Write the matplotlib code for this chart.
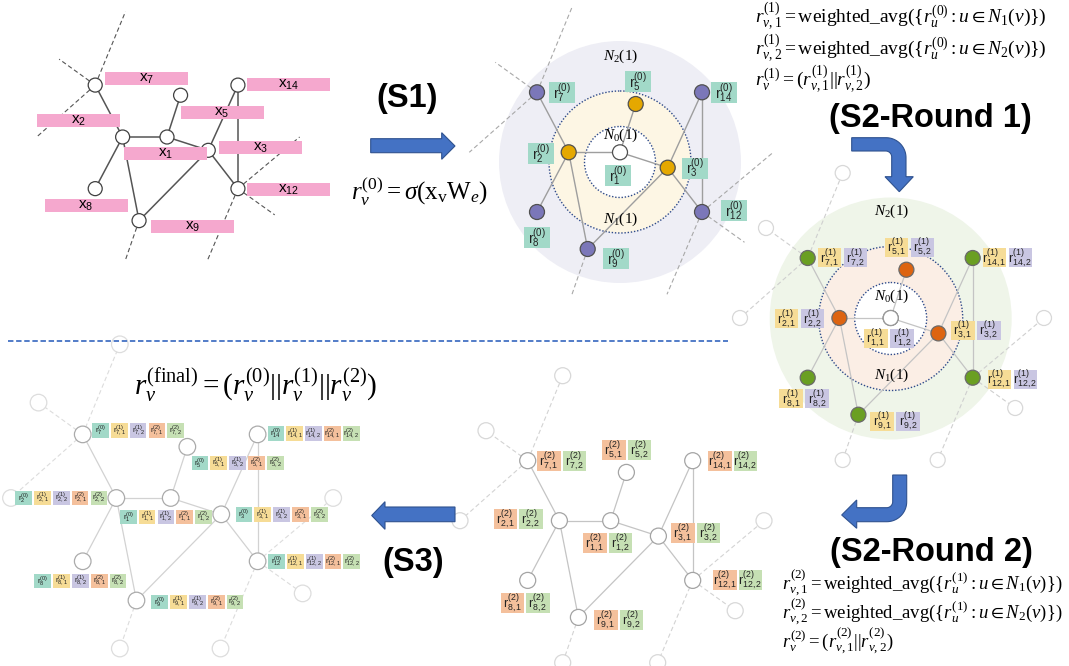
"""Three-stage neighbourhood aggregation diagram (S1, S2 rounds, S3)."""

import matplotlib
matplotlib.use("Agg")
import matplotlib.pyplot as plt
from matplotlib.patches import Circle, Rectangle, Polygon
import numpy as np

plt.rcParams["mathtext.fontset"] = "custom"
plt.rcParams["mathtext.rm"] = "Liberation Serif"
plt.rcParams["mathtext.it"] = "Liberation Serif:italic"
plt.rcParams["mathtext.bf"] = "Liberation Serif:bold"
plt.rcParams["mathtext.sf"] = "Liberation Sans"
plt.rcParams["mathtext.fallback"] = "stix"

# ---- graph data (template coordinates, relative to node 1) ----
NODE_IDS = [1, 2, 3, 5, 7, 8, 9, 12, 14]
NODE_DX = [0, -51.3, 47.7, 15.7, -83, -83, -32.3, 82, 82]
NODE_DY = [0, 0, 15.4, -48.3, -60, 59.7, 96.7, 59.7, -60]
EDGES = [(7, 2), (2, 1), (2, 8), (2, 9), (1, 5), (1, 3),
         (3, 9), (3, 14), (3, 12), (14, 12)]
HOP1 = [2, 3, 5]
HOP2 = [7, 8, 9, 12, 14]
# neighbours outside the drawn subgraph
OUTER_FROM = [7, 7, 7, 12, 12, 9, 12]
OUTER_DX = [-48, -124.7, -150.7, 153.3, 124.5, -48, 47]
OUTER_DY = [-145, -90, 0, 0, 90, 142, 142]

# label box offsets per panel (top-left of first box vs node centre), NODE_IDS order
OFF_A = [(-43, 10), (-86, -23), (11, -9), (0, 11), (10, -13), (-50.7, 10), (12.3, -1), (9.3, -6), (9.3, -7)]
OFF_B = [(-15, 13), (-41, -9), (14, -10), (-11, -33), (12, -10), (-13, 15), (15, -1), (19, -12), (9, -10)]
OFF_C = [(-26.4, 11), (-64.7, -8.7), (12.7, -12.3), (-21.7, -31.6), (10, -9.7), (-28.3, 11.6), (12, -3), (15, -7.7), (10, -9.7)]
OFF_D = [(-27.4, 12.6), (-65.7, -11.4), (13, -13.4), (-24, -32), (9.6, -10), (-27, 12.3), (16, -7.6), (20.3, -10.3), (15.6, -10)]
OFF_E = [(-50.7, 12), (-101, -7), (14.4, -7), (4.3, 9.3), (9.4, -11), (-48.3, 12.6), (15, -5.7), (10.6, -7), (10, -8)]

# box colours per representation part
C_R0 = "#A2D9C8"
C_R11 = "#F6DC96"
C_R12 = "#C9C6E2"
C_R21 = "#F4C09C"
C_R22 = "#C6E0B4"
BLUE = "#4472C4"

FORMULA_R1 = [r"$r_{v,1}^{(1)} = \mathrm{weighted\_avg}(\{r_u^{(0)}: u \in N_1(v)\})$",
              r"$r_{v,2}^{(1)} = \mathrm{weighted\_avg}(\{r_u^{(0)}: u \in N_2(v)\})$",
              r"$r_v^{(1)} = (r_{v,1}^{(1)}||r_{v,2}^{(1)})$"]
FORMULA_R2 = [r"$r_{v,1}^{(2)} = \mathrm{weighted\_avg}(\{r_u^{(1)}: u \in N_1(v)\})$",
              r"$r_{v,2}^{(2)} = \mathrm{weighted\_avg}(\{r_u^{(1)}: u \in N_2(v)\})$",
              r"$r_v^{(2)} = (r_{v,1}^{(2)}||r_{v,2}^{(2)})$"]
FORMULA_S1 = r"$r_v^{(0)} = \sigma(\mathrm{x_v W}_e)$"
FORMULA_FINAL = r"$r_v^{(\mathrm{final})} = (r_v^{(0)}||r_v^{(1)}||r_v^{(2)})$"


def rlab(sup, sub):
    return r"$\mathsf{r}^{\mathsf{(%s)}}_{\mathsf{%s}}$" % (sup, sub)


def positions(cx, cy, s):
    pos = {n: (cx + s * dx, cy + s * dy) for n, dx, dy in zip(NODE_IDS, NODE_DX, NODE_DY)}
    outer = [(cx + s * dx, cy + s * dy) for dx, dy in zip(OUTER_DX, OUTER_DY)]
    return pos, outer


def draw_graph(ax, pos, outer, r, edge_c, edge_lw, dash_c, node_ec, node_fc,
               outer_circles=False, outer_ec="#D8D8D8"):
    for a, b in EDGES:
        ax.plot([pos[a][0], pos[b][0]], [pos[a][1], pos[b][1]], color=edge_c,
                lw=edge_lw, zorder=3, solid_capstyle="butt")
    for src, (ox, oy) in zip(OUTER_FROM, outer):
        ax.plot([pos[src][0], ox], [pos[src][1], oy], color=dash_c, lw=0.8,
                ls=(0, (4, 2.5)), zorder=1)
        if outer_circles:
            ax.add_patch(Circle((ox, oy), r, fc="white", ec=outer_ec, lw=0.9, zorder=1.5))
    for n in NODE_IDS:
        ax.add_patch(Circle(pos[n], r, fc=node_fc.get(n, "white"), ec=node_ec,
                            lw=0.9, zorder=4))


def draw_boxes(ax, pos, offsets, parts, w, h, gap, fs):
    for n, (ox, oy) in zip(NODE_IDS, offsets):
        x0 = pos[n][0] + ox
        y0 = pos[n][1] + oy
        for k, (col, sup, sub_fmt) in enumerate(parts):
            bx = x0 + k * (w + gap)
            ax.add_patch(Rectangle((bx, y0), w, h, fc=col, ec="none", zorder=6))
            ax.text(bx + w / 2, y0 + h / 2 + 0.5, rlab(sup, sub_fmt.format(n)),
                    ha="center", va="center", fontsize=fs, color="#222222", zorder=7)


def rings(ax, cx, cy, r_out, r1, r0, c_out, c1, ndy):
    ax.add_patch(Circle((cx, cy), r_out, fc=c_out, ec="none", zorder=0.5))
    ax.add_patch(Circle((cx, cy), r1, fc=c1, ec="#2E4A8A", lw=1.0, ls=(0, (1, 1.3)), zorder=0.7))
    ax.add_patch(Circle((cx, cy), r0, fc="white", ec="#2E4A8A", lw=1.0, ls=(0, (1, 1.3)), zorder=0.8))
    for lab, dy in zip([r"$N_2(1)$", r"$N_0(1)$", r"$N_1(1)$"], ndy):
        ax.text(cx + 1, cy + dy, lab, ha="center", va="center", fontsize=11, zorder=8)


def arc(cx, cy, r, a0, a1, n=24):
    t = np.radians(np.linspace(a0, a1, n))
    return list(zip(cx + r * np.cos(t), cy + r * np.sin(t)))


fig = plt.figure(figsize=(10.69, 6.66), dpi=100)
ax = fig.add_axes([0, 0, 1, 1])
ax.set_xlim(0, 1069)
ax.set_ylim(666, 0)
ax.axis("off")

# ---- panel A: raw features ----
pos, outer = positions(167, 137, 0.865)
draw_graph(ax, pos, outer, 7, "#555555", 1.1, "#555555", "#404040", {})
for n, (ox, oy) in zip(NODE_IDS, OFF_A):
    x0, y0 = pos[n][0] + ox, pos[n][1] + oy
    ax.add_patch(Rectangle((x0, y0), 83, 13, fc="#F5A8CE", ec="none", zorder=5))
    ax.text(x0 + 41.5, y0 + 6.5, r"$\mathsf{x_{%d}}$" % n, ha="center", va="center",
            fontsize=11, zorder=7)

# ---- panel B: S1 output ----
pos, outer = positions(620, 152.3, 1.0)
rings(ax, 620, 162, 121, 71, 35.5, "#EEEEF5", "#FDF6E4", [-106, -27, 57])
fc = {n: "#E5A800" for n in HOP1}
fc.update({n: "#7B77B9" for n in HOP2})
draw_graph(ax, pos, outer, 7.5, "#9E9E9E", 1.0, "#A8A8A8", "#505050", fc)
draw_boxes(ax, pos, OFF_B, [(C_R0, "0", "{}")], 26, 21, 0, 10)

# ---- panel C: S2 round 1 ----
pos, outer = positions(890.7, 318, 1.0)
rings(ax, 890.7, 318.5, 121, 72, 36, "#EFF5E9", "#FBEEE5", [-107, -22.5, 56.5])
fc = {n: "#DD6411" for n in HOP1}
fc.update({n: "#6A9F22" for n in HOP2})
draw_graph(ax, pos, outer, 7.5, "#C4C4C4", 0.9, "#CFCFCF", "#6A6A6A", fc,
           outer_circles=True)
ax.add_patch(Circle(pos[1], 7.5, fc="white", ec="#9A9A9A", lw=0.9, zorder=4.5))
draw_boxes(ax, pos, OFF_C, [(C_R11, "1", "{},1"), (C_R12, "1", "{},2")], 23.7, 19, 2.3, 9)

# ---- panel D: S2 round 2 ----
pos, outer = positions(610.7, 520.7, 1.0)
draw_graph(ax, pos, outer, 8, "#C4C4C4", 0.9, "#D3D3D3", "#A4A4A4", {},
           outer_circles=True)
draw_boxes(ax, pos, OFF_D, [(C_R21, "2", "{},1"), (C_R22, "2", "{},2")], 23.5, 20, 2, 9)

# ---- panel E: final concatenation ----
pos, outer = positions(170.7, 498, 1.06)
draw_graph(ax, pos, outer, 8.3, "#D2D2D2", 0.9, "#DCDCDC", "#ABABAB", {},
           outer_circles=True, outer_ec="#DDDDDD")
draw_boxes(ax, pos, OFF_E, [(C_R0, "0", "{}"), (C_R11, "1", "{},1"), (C_R12, "1", "{},2"),
                            (C_R21, "2", "{},1"), (C_R22, "2", "{},2")], 16.7, 14.3, 2.1, 5.8)

# ---- arrows ----
arrow_kw = dict(fc=BLUE, ec="#2F528F", lw=0.8, zorder=9)
ax.add_patch(Polygon([(370.7, 138.7), (441.7, 138.7), (441.7, 132.7), (455, 146),
                      (441.7, 159.3), (441.7, 152.7), (370.7, 152.7)], **arrow_kw))
ax.add_patch(Polygon([(455, 507), (385, 507), (385, 501.7), (371.7, 515.5),
                      (385, 529.3), (385, 521.7), (455, 521.7)], **arrow_kw))
bent1 = ([(851.7, 137.7)] + arc(886, 157.7, 20, -90, 0)
         + [(906, 176.7), (913.3, 176.7), (899.3, 191.7), (885, 176.7), (891.7, 176.7)]
         + arc(885.7, 157, 6, 0, -90) + [(851.7, 151)])
ax.add_patch(Polygon(bent1, **arrow_kw))
bent2 = ([(892.7, 475), (906.7, 475)] + arc(886.7, 501.7, 20, 0, 90)
         + [(856.7, 521.7), (856.7, 528.3), (841.7, 515), (856.7, 500), (856.7, 507.7)]
         + arc(886.7, 501.7, 6, 90, 0))
ax.add_patch(Polygon(bent2, **arrow_kw))

# ---- separator ----
ax.plot([8, 728], [341, 341], color=BLUE, lw=1.3, ls=(0, (3, 1.5)), zorder=2)

# ---- titles ----
title_kw = dict(ha="center", va="center", fontsize=23.5, fontweight="bold",
                family="Liberation Sans", zorder=10)
ax.text(406.7, 99, "(S1)", **title_kw)
ax.text(930, 118, "(S2-Round 1)", **title_kw)
ax.text(931.7, 553, "(S2-Round 2)", **title_kw)
ax.text(413, 562, "(S3)", **title_kw)

# ---- formulas ----
for txt, yb in zip(FORMULA_R1, [23.3, 55, 86]):
    ax.text(755, yb, txt, ha="left", va="baseline", fontsize=14, zorder=10)
for txt, yb in zip(FORMULA_R2, [590, 619, 648]):
    ax.text(781.7, yb, txt, ha="left", va="baseline", fontsize=13.5, zorder=10)
ax.text(351, 200, FORMULA_S1, ha="left", va="baseline", fontsize=18, zorder=10)
ax.text(134.4, 395, FORMULA_FINAL, ha="left", va="baseline", fontsize=21, zorder=10)

fig.savefig("out.png", dpi=100)
